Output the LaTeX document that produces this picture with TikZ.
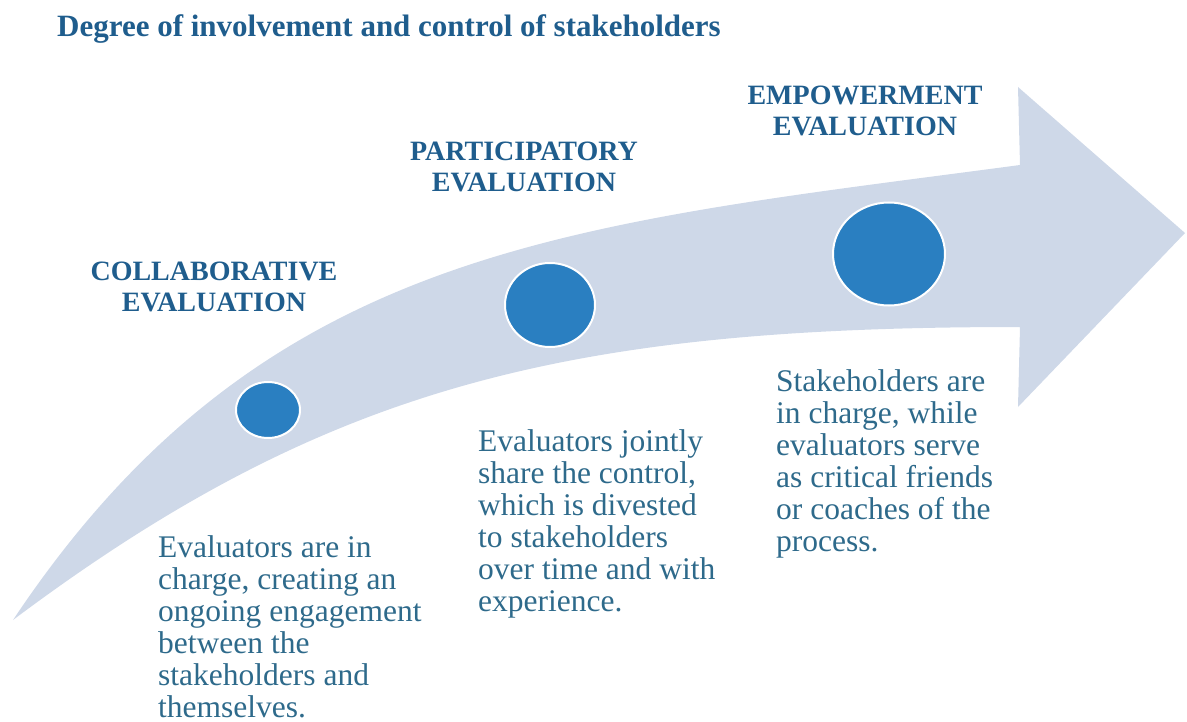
\documentclass[tikz,border=0pt]{standalone}
\usepackage{fontspec}
\setmainfont{Liberation Serif}
\usetikzlibrary{shapes.geometric}
\definecolor{bandblue}{HTML}{CED8E8}
\definecolor{dotblue}{HTML}{2A7FC1}
\definecolor{headblue}{HTML}{1F5D8D}
\definecolor{textblue}{HTML}{2E6A8B}
\begin{document}
\begin{tikzpicture}[x=1pt,y=-1pt,
  dot/.style={ellipse,fill=dotblue,draw=white,line width=2pt},
  head/.style={anchor=north,align=center,inner sep=0pt,text=headblue,font=\fontsize{28}{31}\selectfont\bfseries},
  body/.style={anchor=north west,align=left,inner sep=0pt,text=textblue,font=\fontsize{31.5}{32}\selectfont}]
\useasboundingbox (0,0) rectangle (1187,722);
\fill[bandblue](13,620) .. controls (263,245) and (570,225) .. (1020,165)
  --(1018,87)--(1185,233)--(1018,407)--(1020,327)
  .. controls (570,327) and (328,384) .. (13,620)--cycle;
\node[anchor=north west,inner sep=0pt,text=headblue,font=\fontsize{31}{33}\selectfont\bfseries] (title) at (57,14) {Degree of involvement and control of stakeholders};
\node[dot,minimum width=64pt,minimum height=56pt] (c1) at (268,410) {};
\node[dot,minimum width=90pt,minimum height=84pt] (c2) at (550,305) {};
\node[dot,minimum width=112pt,minimum height=103pt] (c3) at (889,254) {};
\node[head] (h1) at (214,262) {COLLABORATIVE\\EVALUATION};
\node[head] (h2) at (524,142) {PARTICIPATORY\\EVALUATION};
\node[head] (h3) at (865,86) {EMPOWERMENT\\EVALUATION};
\node[body] (t1) at (158,535) {Evaluators are in\\charge, creating an\\ongoing engagement\\between the\\stakeholders and\\themselves.};
\node[body] (t2) at (478,429) {Evaluators jointly\\share the control,\\which is divested\\to stakeholders\\over time and with\\experience.};
\node[body] (t3) at (776,369) {Stakeholders are\\in charge, while\\evaluators serve\\as critical friends\\or coaches of the\\process.};
\end{tikzpicture}
\end{document}
